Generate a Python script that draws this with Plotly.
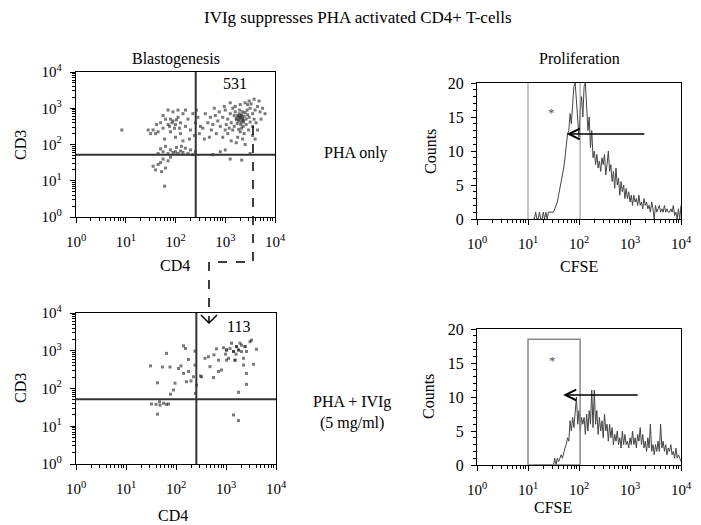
import math
import plotly.graph_objects as go

PAGE_W, PAGE_H = 701, 525
BODY = 8                      # default page margin around the plot div
W, H = PAGE_W - BODY, PAGE_H - BODY
SERIF = "Liberation Serif"

# ---------------- data ----------------
decade_alias = {"1": "10<sup>0</sup>", "10": "10<sup>1</sup>", "100": "10<sup>2</sup>",
                "1000": "10<sup>3</sup>", "10k": "10<sup>4</sup>", "10000": "10<sup>4</sup>"}
count_tick_step = 5

# Blastogenesis dot plot, PHA only: (log10 CD4, log10 CD3)
pha_dots_log = [
    (3.25, 2.80), (3.30, 2.75), (3.35, 2.70), (3.28, 2.85), (3.38, 2.78), (3.32, 2.62), (3.22, 2.72),
    (3.40, 2.88), (3.27, 2.65), (3.35, 2.90), (3.31, 2.55), (3.42, 2.70), (3.18, 2.80), (3.45, 2.82),
    (3.24, 2.58), (3.36, 2.50), (3.29, 2.95), (3.20, 2.90), (3.48, 2.75), (3.33, 2.45), (3.10, 2.85),
    (3.05, 2.70), (3.00, 2.95), (3.12, 2.60), (2.95, 2.75), (3.15, 3.00), (3.50, 3.00), (3.55, 2.85),
    (3.60, 2.95), (3.58, 2.70), (3.65, 3.05), (3.70, 2.90), (3.75, 3.00), (3.52, 3.12), (3.45, 3.10),
    (3.40, 3.15), (3.30, 3.10), (3.20, 3.05), (3.62, 2.60), (3.55, 2.50), (3.47, 2.40), (3.38, 2.30),
    (3.30, 2.35), (3.25, 2.20), (3.35, 2.15), (3.15, 2.40), (3.08, 2.45), (3.02, 2.55), (2.90, 2.50),
    (2.85, 2.65), (2.80, 2.80), (2.75, 2.55), (2.88, 2.90), (2.78, 3.00), (2.70, 2.75), (2.72, 2.40),
    (2.82, 2.30), (2.95, 2.20), (3.05, 2.30), (3.12, 2.10), (3.22, 2.05), (3.40, 2.00), (3.55, 2.25),
    (3.65, 2.40), (3.72, 2.70), (3.80, 2.85), (3.68, 3.20), (3.58, 3.25), (3.48, 3.20), (3.10, 3.15),
    (2.98, 3.05), (2.65, 2.60), (2.60, 2.85), (2.55, 2.45), (2.68, 2.20), (2.58, 2.15), (3.60, 2.15),
    (3.00, 2.40), (3.18, 2.50), (3.42, 2.55), (3.50, 2.62), (3.27, 2.42), (3.37, 2.62), (3.23, 2.68),
    (3.33, 2.82), (3.44, 2.95), (3.26, 2.76), (3.34, 2.74), (3.29, 2.70), (3.31, 2.79), (3.36, 2.66),
    (1.95, 2.65), (2.00, 2.55), (1.90, 2.70), (2.05, 2.75), (1.85, 2.55), (2.10, 2.60), (1.80, 2.70),
    (2.15, 2.85), (1.75, 2.45), (2.20, 2.50), (1.70, 2.60), (2.25, 2.70), (1.65, 2.35), (2.30, 2.40),
    (1.60, 2.30), (2.35, 2.85), (1.55, 2.40), (2.05, 2.95), (1.95, 2.90), (1.85, 2.95), (2.20, 2.95),
    (1.75, 2.80), (2.10, 2.30), (2.00, 2.20), (1.90, 2.35), (2.40, 2.60), (2.45, 2.75), (2.50, 2.50),
    (2.38, 2.25), (1.50, 2.30), (1.45, 2.40), (1.62, 2.55), (2.28, 2.15), (2.15, 2.10), (1.78, 2.15),
    (2.42, 2.95), (2.48, 2.30), (1.98, 2.45), (2.08, 2.45), (1.88, 2.50), (1.93, 2.60), (2.02, 2.68),
    (1.90, 1.85), (1.95, 1.78), (2.00, 1.80), (2.05, 1.75), (2.10, 1.82), (2.15, 1.78), (2.20, 1.90),
    (1.85, 1.75), (2.25, 1.75), (1.80, 1.95), (2.30, 1.85), (1.75, 1.80), (2.35, 1.72), (1.70, 1.88),
    (2.40, 1.80), (1.65, 1.75), (2.02, 1.92), (2.12, 1.95),
    (1.75, 1.60), (1.65, 1.45), (1.80, 1.35), (1.60, 1.30), (1.70, 1.50), (1.85, 1.55), (1.55, 1.40),
    (1.72, 1.25), (1.90, 1.65), (1.78, 0.85), (0.92, 2.40),
    (3.10, 1.60), (3.33, 1.57), (3.50, 1.75), (2.75, 1.72), (3.00, 1.85), (2.90, 1.80),
]

# Blastogenesis dot plot, PHA + IVIg: (log10 CD4, log10 CD3)
ivig_dots_log = [
    (1.49, 2.60), (1.63, 2.15), (1.68, 1.56), (1.63, 1.32), (1.51, 1.59), (1.81, 2.93), (1.73, 2.57),
    (1.88, 2.57), (2.05, 2.53), (2.15, 3.13), (2.19, 3.06), (2.25, 2.77), (2.15, 2.40), (2.25, 2.45),
    (2.21, 2.18), (1.98, 2.14), (1.95, 1.96), (1.89, 1.85), (1.85, 1.59), (1.81, 1.58), (1.67, 1.65),
    (2.38, 2.99), (2.38, 2.62), (2.35, 2.31), (2.41, 2.09), (2.51, 2.31), (2.58, 2.80), (2.65, 2.84),
    (2.68, 2.58), (2.76, 2.89), (2.81, 3.05), (2.85, 2.75), (2.75, 2.29), (2.85, 2.45), (2.91, 2.49),
    (2.95, 3.08), (3.01, 3.02), (3.05, 2.80), (3.08, 3.06), (3.15, 2.98), (3.18, 2.75), (3.21, 3.11),
    (3.25, 3.02), (3.28, 3.20), (3.31, 2.98), (3.35, 2.80), (3.38, 3.11), (3.41, 2.98), (3.48, 3.24),
    (3.51, 3.28), (3.61, 3.04), (3.55, 2.64), (3.41, 2.40), (3.41, 2.11), (3.25, 1.90), (3.15, 1.30),
    (3.25, 1.15), (3.35, 2.62), (3.20, 2.91), (2.99, 2.91), (3.11, 3.20), (3.31, 3.15), (3.01, 2.75),
    (2.49, 2.33), (2.39, 1.87), (1.75, 1.61), (3.01, 3.02), (3.21, 3.11), (3.18, 2.75), (3.25, 3.02),
    (3.38, 3.11), (3.15, 2.98), (2.10, 2.60), (2.30, 2.20), (1.60, 1.58),
]

cfse_log_start = 1.10   # first CFSE channel (log10)
cfse_log_step = 0.025   # channel width (log10)

pha_counts = [
    0, 0, 1, 0, 0, 1, 0, 0, 1, 0, 1, 0, 1, 1, 1, 1, 1, 1.5, 2, 2.5,
    3.5, 4.5, 5, 6.5, 7.5, 9, 10.5, 12.5, 13, 15.5, 14, 17.5, 19.5, 20, 17, 14, 12, 16, 18, 15,
    19.5, 20, 16, 13, 15, 10.5, 13, 9, 10, 8, 9.5, 7.5, 8.5, 7, 9, 8, 9.5, 6.5, 8, 10,
    7, 8, 5.5, 7, 4.5, 7.5, 5, 6, 3.5, 5.5, 4, 5, 3, 4.5, 3, 4, 2.5, 3.5, 2, 3.5,
    2.5, 3, 2, 3.5, 2, 2.5, 1.5, 3, 2, 2.5, 1.5, 2, 1, 2.5, 1.5, 0, 2, 1, 1.5, 2,
    1, 1.5, 1, 2, 1, 1.5, 1, 1, 1.5, 1, 2, 0.5, 1, 0, 1.5, 0, 2,
]

ivig_counts = [
    0, 0, 0, 0, 0, 0, 0, 0, 0, 0, 0, 0, 0, 0, 0, 0, 0, 1, 0, 1,
    0.5, 1, 1.5, 1, 2, 2.5, 3, 4, 3.5, 6.5, 5, 7, 5.5, 7.5, 10, 6, 8, 5, 7, 6,
    7, 4.5, 7.5, 5, 8, 6, 11, 5.5, 11, 6, 8, 4.5, 7, 5, 6.5, 4, 7.5, 5, 6, 3.5,
    6, 4, 5.5, 3, 4.5, 3.5, 5, 3, 4, 2.5, 5, 3, 4.5, 3, 3.5, 2.5, 4, 3, 5, 3,
    4, 2.5, 4.5, 3.5, 5.5, 3, 4.5, 2.5, 3.5, 2, 4, 2.5, 6, 2, 3, 1.5, 3, 2, 3.5, 2,
    6, 2.5, 3.5, 2, 3, 1.5, 2.5, 2, 3, 1.5, 2, 1, 2.5, 1, 1.5, 1, 0.5,
]

gate_cd4 = 255      # vertical quadrant gate
gate_cd3 = 52       # horizontal quadrant gate
cfse_gate = (10, 105)
cfse_rect_top = 18.5
quadrant_counts = ["531", "113"]

# ---------------- helpers (page pixel -> paper fraction) ----------------
def px(x):
    return (x - BODY) / W


def py(y):
    return 1 - (y - BODY) / H


lg = math.log10

tickfont = dict(family=SERIF, size=15, color="black")


def log_axis(domain, anchor, standoff=5):
    return dict(
        domain=domain, anchor=anchor, type="log", range=[0, 4], automargin=False,
        tickmode="linear", tick0=0, dtick=1, labelalias=decade_alias,
        showline=True, mirror=True, linecolor="black", linewidth=1.3,
        ticks="outside", ticklen=5, tickwidth=1, tickcolor="black",
        minor=dict(ticks="outside", ticklen=3, tickwidth=1, tickcolor="black", dtick="D1", showgrid=False),
        showgrid=False, zeroline=False, tickfont=tickfont,
        ticklabelstandoff=standoff,
    )


def count_axis(domain, anchor):
    return dict(
        domain=domain, anchor=anchor, range=[0, 20], automargin=False,
        tickmode="linear", tick0=0, dtick=count_tick_step,
        showline=True, mirror=True, linecolor="black", linewidth=1.3,
        ticks="outside", ticklen=5, tickwidth=1, tickcolor="black",
        minor=dict(ticks="outside", ticklen=3, tickwidth=1, tickcolor="black", dtick=1, showgrid=False),
        showgrid=False, zeroline=False, tickfont=dict(family=SERIF, size=16, color="black"),
        ticklabelstandoff=4,
    )


fig = go.Figure()

dot_style = dict(mode="markers", marker=dict(symbol="square", size=3, color="#222222", opacity=0.6),
                 hoverinfo="skip", showlegend=False)

fig.add_trace(go.Scatter(x=[10 ** a for a, b in pha_dots_log], y=[10 ** b for a, b in pha_dots_log],
                         xaxis="x", yaxis="y", **dot_style))
fig.add_trace(go.Scatter(x=[10 ** a for a, b in ivig_dots_log], y=[10 ** b for a, b in ivig_dots_log],
                         xaxis="x3", yaxis="y3", **dot_style))

cfse_x_pha = [10 ** (cfse_log_start + i * cfse_log_step) for i in range(len(pha_counts))]
cfse_x_ivig = [10 ** (cfse_log_start + i * cfse_log_step) for i in range(len(ivig_counts))]

hist_style = dict(mode="lines", line=dict(color="#444444", width=1), hoverinfo="skip", showlegend=False)
fig.add_trace(go.Scatter(x=cfse_x_pha, y=pha_counts, xaxis="x2", yaxis="y2", **hist_style))
fig.add_trace(go.Scatter(x=cfse_x_ivig, y=ivig_counts, xaxis="x4", yaxis="y4", **hist_style))

fig.update_layout(
    width=W, height=H, margin=dict(l=0, r=0, t=0, b=0, autoexpand=False),
    paper_bgcolor="white", plot_bgcolor="white",
    font=dict(family=SERIF, size=16, color="black"),
    xaxis=log_axis([px(76), px(275)], "y", standoff=6),
    yaxis=log_axis([py(217), py(72)], "x"),
    xaxis2=log_axis([px(477), px(681)], "y2", standoff=6),
    yaxis2=count_axis([py(219), py(83)], "x2"),
    xaxis3=log_axis([px(76), px(276)], "y3", standoff=6),
    yaxis3=log_axis([py(464), py(313)], "x3"),
    xaxis4=log_axis([px(477), px(681)], "y4", standoff=6),
    yaxis4=count_axis([py(465), py(329)], "x4"),
)

# shapes on log axes take data values
shapes = []
gate_line = dict(color="#333333", width=2)
for xa, ya in (("x", "y"), ("x3", "y3")):
    shapes.append(dict(type="line", xref=xa, yref=ya, x0=gate_cd4, x1=gate_cd4, y0=1, y1=10000, line=gate_line))
    shapes.append(dict(type="line", xref=xa, yref=ya, x0=1, x1=10000, y0=gate_cd3, y1=gate_cd3, line=gate_line))

for gx in cfse_gate:
    shapes.append(dict(type="line", xref="x2", yref="y2", x0=gx, x1=gx, y0=0, y1=20,
                       line=dict(color="#8a8a8a", width=1)))
shapes.append(dict(type="rect", xref="x4", yref="y4", x0=cfse_gate[0], x1=cfse_gate[1], y0=0, y1=cfse_rect_top,
                   line=dict(color="#8a8a8a", width=1.5), fillcolor="rgba(0,0,0,0)"))

# dashed connector between the dot plots
shapes.append(dict(type="path", xref="paper", yref="paper",
                   path=f"M {px(253)},{py(126)} L {px(253)},{py(262)} L {px(209)},{py(262)} L {px(209)},{py(322)}",
                   line=dict(color="black", width=1.5, dash="dash")))
shapes.append(dict(type="path", xref="paper", yref="paper",
                   path=f"M {px(201)},{py(315)} L {px(209)},{py(323)} L {px(217)},{py(315)}",
                   line=dict(color="black", width=1.5)))
fig.update_layout(shapes=shapes)

ann = []


def txt(text, x, y, size=16, **kw):
    d = dict(text=text, x=px(x), y=py(y), xref="paper", yref="paper", showarrow=False,
             xanchor="center", yanchor="middle", font=dict(family=SERIF, size=size, color="black"))
    d.update(kw)
    ann.append(d)


txt("IVIg suppresses PHA activated CD4+ T-cells", 358, 17, size=17)
txt("Blastogenesis", 176, 59)
txt("Proliferation", 579, 59)
txt("PHA only", 356, 153)
txt("PHA + IVIg<br>(5 mg/ml)", 352, 412)
txt("CD3", 20, 145, textangle=-90)
txt("CD3", 20, 388, textangle=-90)
txt("CD4", 175, 265)
txt("CD4", 173, 515)
txt("Counts", 430, 151, textangle=-90)
txt("Counts", 428, 397, textangle=-90)
txt("CFSE", 579, 266)
txt("CFSE", 553, 507)

# quadrant counts (annotations on log axes take log10 positions)
ann.append(dict(text=quadrant_counts[0], x=3.2, y=3.67, xref="x", yref="y", showarrow=False,
                font=dict(family=SERIF, size=16, color="black")))
ann.append(dict(text=quadrant_counts[1], x=3.24, y=3.63, xref="x3", yref="y3", showarrow=False,
                font=dict(family=SERIF, size=16, color="black")))

# asterisks
ann.append(dict(text="*", x=1.47, y=15.6, xref="x2", yref="y2", showarrow=False,
                font=dict(family=SERIF, size=13, color="#555555")))
ann.append(dict(text="*", x=1.49, y=15.3, xref="x4", yref="y4", showarrow=False,
                font=dict(family=SERIF, size=13, color="#555555")))

# shift arrows
ann.append(dict(text="", x=1.76, y=12.5, xref="x2", yref="y2", ax=3.31, ay=12.5, axref="x2", ayref="y2",
                showarrow=True, arrowhead=5, arrowsize=1.4, arrowwidth=1.5, arrowcolor="black"))
ann.append(dict(text="", x=1.69, y=10.3, xref="x4", yref="y4", ax=3.18, ay=10.3, axref="x4", ayref="y4",
                showarrow=True, arrowhead=5, arrowsize=1.4, arrowwidth=1.5, arrowcolor="black"))

fig.update_layout(annotations=ann)

fig.write_html("out.html")
